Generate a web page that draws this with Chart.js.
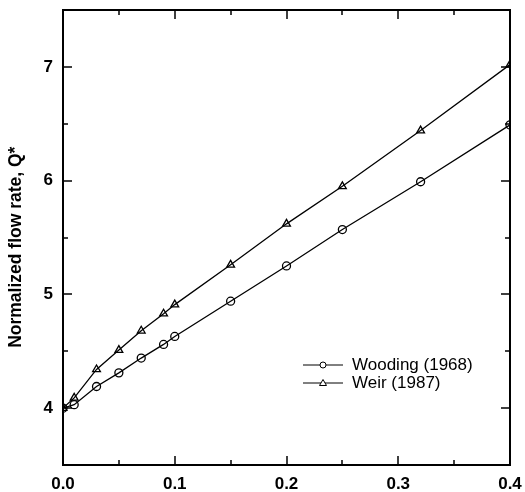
<!DOCTYPE html>
<html>
<head>
<meta charset="utf-8">
<script src="https://cdn.jsdelivr.net/npm/chart.js@4.4.1/dist/chart.umd.min.js"></script>
<style>
  html, body { margin: 0; padding: 0; background: #fff; }
  #wrap { width: 525px; height: 492px; }
</style>
</head>
<body>
<div id="wrap"><canvas id="chart" width="525" height="492"></canvas></div>
<script>
// Data
const xValues = [0, 0.01, 0.03, 0.05, 0.07, 0.09, 0.1, 0.15, 0.2, 0.25, 0.32, 0.4]
const woodingValues = [4.0, 4.03, 4.19, 4.31, 4.44, 4.56, 4.63, 4.94, 5.25, 5.57, 5.99, 6.49]
const weirValues = [4.0, 4.09, 4.34, 4.51, 4.68, 4.83, 4.91, 5.26, 5.62, 5.95, 6.44, 7.02]
const seriesNames = ["Wooding (1968)", "Weir (1987)"]

const xTicks = [0, 0.1, 0.2, 0.3, 0.4]
const xTickLabels = ["0.0", "0.1", "0.2", "0.3", "0.4"]
const yTicks = [4, 5, 6, 7]
const yTickLabels = ["4", "5", "6", "7"]
const yTitle = "Normalized flow rate, Q*"

const FONT = "'Liberation Sans', Arial, sans-serif"

function toPoints(ys) {
  return xValues.map((x, i) => ({ x: x, y: ys[i] }))
}

function noScalePadding(scale) {
  scale.paddingTop = 0
  scale.paddingBottom = 0
  scale.paddingLeft = 0
  scale.paddingRight = 0
}

// inward ticks on all four sides + frame
const frameTicks = {
  id: "frameTicks",
  afterDatasetsDraw(chart) {
    const ctx = chart.ctx
    const a = chart.chartArea
    const xs = chart.scales.x
    const ys = chart.scales.y
    ctx.save()
    ctx.strokeStyle = "#000"
    ctx.lineWidth = 1.5
    const major = 9
    const minor = 5
    const xMinor = []
    for (let i = 0; i < xTicks.length - 1; i++) xMinor.push((xTicks[i] + xTicks[i + 1]) / 2)
    const yMinor = [ys.min, ys.max]
    for (let i = 0; i < yTicks.length - 1; i++) yMinor.push((yTicks[i] + yTicks[i + 1]) / 2)

    ctx.beginPath()
    const vTick = (v, len) => {
      const px = Math.round(xs.getPixelForValue(v))
      ctx.moveTo(px, a.bottom); ctx.lineTo(px, a.bottom - len)
      ctx.moveTo(px, a.top); ctx.lineTo(px, a.top + len)
    }
    const hTick = (v, len) => {
      const py = Math.round(ys.getPixelForValue(v))
      ctx.moveTo(a.left, py); ctx.lineTo(a.left + len, py)
      ctx.moveTo(a.right, py); ctx.lineTo(a.right - len, py)
    }
    xTicks.forEach((v) => vTick(v, major))
    xMinor.forEach((v) => vTick(v, minor))
    yTicks.forEach((v) => hTick(v, major))
    yMinor.forEach((v) => hTick(v, minor))
    ctx.stroke()

    ctx.lineWidth = 2
    ctx.strokeRect(a.left, a.top, a.right - a.left, a.bottom - a.top)
    ctx.restore()
  },
}

// legend inside the plot
const innerLegend = {
  id: "innerLegend",
  afterDraw(chart) {
    const ctx = chart.ctx
    const x0 = 303
    const y0 = 365
    const rowH = 18
    ctx.save()
    chart.data.datasets.forEach((ds, i) => {
      const y = y0 + i * rowH
      ctx.strokeStyle = "#000"
      ctx.lineWidth = 1
      ctx.beginPath()
      ctx.moveTo(x0, y)
      ctx.lineTo(x0 + 40, y)
      ctx.stroke()
      ctx.fillStyle = "#fff"
      ctx.beginPath()
      if (ds.pointStyle === "triangle") {
        ctx.moveTo(x0 + 20, y - 3.5)
        ctx.lineTo(x0 + 23.5, y + 2.5)
        ctx.lineTo(x0 + 16.5, y + 2.5)
        ctx.closePath()
      } else {
        ctx.arc(x0 + 20, y, 3, 0, Math.PI * 2)
      }
      ctx.fill()
      ctx.stroke()
      ctx.fillStyle = "#000"
      ctx.font = "17px " + FONT
      ctx.textBaseline = "middle"
      ctx.fillText(ds.label, x0 + 49, y)
    })
    ctx.restore()
  },
}

new Chart(document.getElementById("chart"), {
  type: "scatter",
  data: {
    datasets: [
      {
        label: seriesNames[0],
        data: toPoints(woodingValues),
        showLine: true,
        borderColor: "#000",
        borderWidth: 1.3,
        pointStyle: "circle",
        pointRadius: 4,
        pointBorderWidth: 1.3,
        pointBackgroundColor: "rgba(255,255,255,0)",
        pointBorderColor: "#000",
      },
      {
        label: seriesNames[1],
        data: toPoints(weirValues),
        showLine: true,
        borderColor: "#000",
        borderWidth: 1.3,
        pointStyle: "triangle",
        pointRadius: 4.5,
        pointBorderWidth: 1.3,
        pointBackgroundColor: "rgba(255,255,255,0)",
        pointBorderColor: "#000",
      },
    ],
  },
  options: {
    responsive: false,
    animation: false,
    layout: { padding: { left: 0, right: 15, top: 10, bottom: 0 } },
    plugins: {
      legend: { display: false },
      tooltip: { enabled: false },
    },
    scales: {
      x: {
        type: "linear",
        min: 0,
        max: 0.4,
        grid: { display: false, drawTicks: false },
        border: { display: false },
        afterBuildTicks: (scale) => {
          scale.ticks = xTicks.map((v) => ({ value: v }))
        },
        afterFit: (scale) => {
          scale.height = 27
          noScalePadding(scale)
        },
        ticks: {
          padding: 9,
          color: "#000",
          font: { family: FONT, size: 17, weight: "bold" },
          callback: (v) => xTickLabels[xTicks.indexOf(v)],
        },
      },
      y: {
        type: "linear",
        min: 3.5,
        max: 7.5,
        grid: { display: false, drawTicks: false },
        border: { display: false },
        afterBuildTicks: (scale) => {
          scale.ticks = yTicks.map((v) => ({ value: v }))
        },
        afterFit: (scale) => {
          scale.width = 63
          noScalePadding(scale)
        },
        ticks: {
          padding: 10,
          color: "#000",
          font: { family: FONT, size: 17, weight: "bold" },
          callback: (v) => yTickLabels[yTicks.indexOf(v)],
        },
        title: {
          display: true,
          text: yTitle + "    ",
          color: "#000",
          font: { family: FONT, size: 17.5, weight: "bold" },
          padding: { top: 6, bottom: 0 },
        },
      },
    },
  },
  plugins: [frameTicks, innerLegend],
})
</script>
</body>
</html>
